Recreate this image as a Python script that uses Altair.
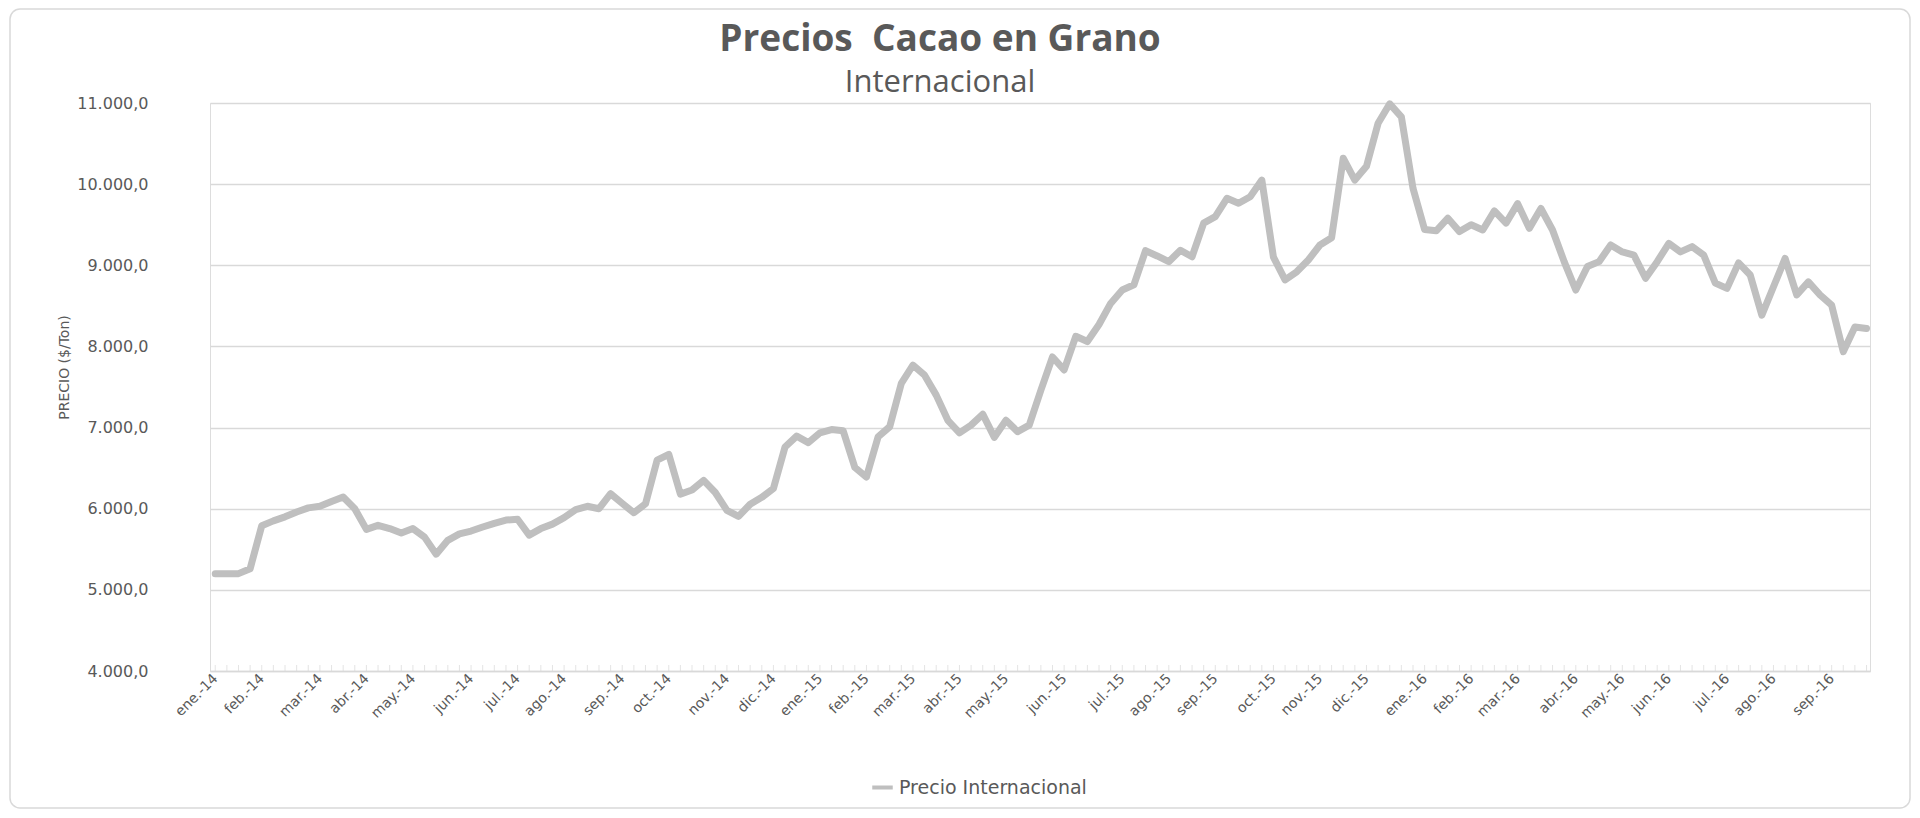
import json
import altair as alt
import pandas as pd

# ---- data ----
month_labels = ["ene.-14", "feb.-14", "mar.-14", "abr.-14", "may.-14", "jun.-14", "jul.-14",
                "ago.-14", "sep.-14", "oct.-14", "nov.-14", "dic.-14", "ene.-15", "feb.-15",
                "mar.-15", "abr.-15", "may.-15", "jun.-15", "jul.-15", "ago.-15", "sep.-15",
                "oct.-15", "nov.-15", "dic.-15", "ene.-16", "feb.-16", "mar.-16", "abr.-16",
                "may.-16", "jun.-16", "jul.-16", "ago.-16", "sep.-16"]
month_idx = [0, 4, 9, 13, 17, 22, 26, 30, 35, 39, 44, 48, 52, 56, 60, 64, 68, 73, 78, 82, 86,
             91, 95, 99, 104, 108, 112, 117, 121, 125, 130, 134, 139]

precio = [
    5200, 5200, 5200, 5260, 5790, 5850, 5900, 5960, 6010, 6030, 6090, 6145,
    6000, 5745, 5795, 5755, 5700, 5755, 5650, 5440, 5610, 5690, 5725, 5775,
    5820, 5860, 5870, 5675, 5755, 5810, 5890, 5990, 6030, 6000, 6185, 6065,
    5950, 6060, 6600, 6670, 6180, 6230, 6350, 6200, 5980, 5905, 6055, 6140,
    6250, 6760, 6895, 6815, 6935, 6975, 6960, 6510, 6390, 6885, 7010, 7545,
    7770, 7645, 7400, 7090, 6935, 7030, 7165, 6880, 7090, 6950, 7030, 7460,
    7870, 7710, 8125, 8060, 8270, 8530, 8695, 8760, 9180, 9115, 9045, 9185,
    9105, 9520, 9600, 9825, 9765, 9845, 10050, 9100, 8820, 8920, 9065, 9250,
    9340, 10320, 10050, 10220, 10750, 10990, 10830, 9950, 9440, 9425, 9580, 9415,
    9500, 9435, 9670, 9520, 9760, 9455, 9700, 9435, 9045, 8695, 8985, 9045,
    9250, 9165, 9125, 8840, 9045, 9270, 9165, 9230, 9125, 8780, 8715, 9030,
    8880, 8385, 8735, 9085, 8635, 8795, 8635, 8510, 7935, 8240, 8220,
]
serie_name = "Precio Internacional"
titulo = ["Precios\u00a0 Cacao en Grano"]
subtitulo = ["Internacional"]
y_ticks = [4000, 5000, 6000, 7000, 8000, 9000, 10000, 11000]

df = pd.DataFrame({"semana": list(range(len(precio))), "precio": precio, "serie": serie_name})

W, H = 1660, 568
GREY_TXT = "#595959"
GRID = "#d9d9d9"

x_label_expr = (f"{json.dumps(month_labels)}[indexof({json.dumps(month_idx)}, datum.value)] || ''")
y_label_expr = ("replace(replace(replace(format(datum.value, ',.1f'), ',', '_'), '.', ','), '_', '.')")

x_enc = alt.X(
    "semana:Q",
    scale=alt.Scale(domain=[-0.45, 142.3], nice=False, zero=False),
    axis=alt.Axis(
        values=list(range(len(precio))), labelExpr=x_label_expr, labelAngle=-45,
        labelAlign="right", labelBaseline="middle", labelOverlap=False, labelFlush=False,
        labelFont="DejaVu Sans", labelFontSize=14, labelColor=GREY_TXT, labelPadding=5,
        ticks=False, grid=False, domainColor=GRID, domainWidth=1.5, title=None,
    ),
)
y_enc = alt.Y(
    "precio:Q",
    scale=alt.Scale(domain=[4000, 11000], nice=False, zero=False),
    axis=alt.Axis(
        values=y_ticks, labelExpr=y_label_expr, domain=False, ticks=False,
        gridColor=GRID, gridWidth=1.5, labelFont="DejaVu Sans", labelFontSize=16,
        labelColor=GREY_TXT, labelPadding=62,
        title="PRECIO  ($/Ton)", titleFont="DejaVu Sans", titleFontSize=14,
        titleFontWeight="normal", titleColor=GREY_TXT, titleAngle=-90,
        titleX=-146, titleY=264, titleAlign="center", titleBaseline="middle",
    ),
)

border = alt.Chart(pd.DataFrame({"k": [0]})).mark_rect(
    fillOpacity=0, stroke=GRID, strokeWidth=1.5, cornerRadius=10
).encode(x=alt.value(-200), x2=alt.value(1700), y=alt.value(-94), y2=alt.value(705))

title_mark = alt.Chart(pd.DataFrame({"t": titulo})).mark_text(
    font="Open Sans", fontSize=37, fontWeight="bold", color=GREY_TXT,
    align="center", baseline="alphabetic",
).encode(x=alt.value(730), y=alt.value(-52), text="t:N")

subtitle_mark = alt.Chart(pd.DataFrame({"t": subtitulo})).mark_text(
    font="Open Sans", fontSize=31, color=GREY_TXT, align="center", baseline="alphabetic",
).encode(x=alt.value(730), y=alt.value(-11), text="t:N")

ticks = alt.Chart(df).mark_tick(orient="vertical", size=6, thickness=1, color=GRID).encode(
    x=x_enc, y=alt.value(H - 3)
)

line = alt.Chart(df).mark_line(strokeWidth=7, strokeJoin="round", strokeCap="round").encode(
    x=x_enc,
    y=y_enc,
    color=alt.Color(
        "serie:N",
        scale=alt.Scale(range=["#BFBFBF"]),
        legend=alt.Legend(
            title=None, orient="none", legendX=660, legendY=672, symbolType="stroke",
            symbolStrokeWidth=4, symbolSize=420, labelFont="DejaVu Sans", labelFontSize=19,
            labelColor=GREY_TXT, labelLimit=500,
        ),
    ),
)

chart = alt.layer(border, title_mark, subtitle_mark, ticks, line).properties(
    width=W,
    height=H,
    autosize=alt.AutoSizeParams(type="none"),
    padding={"left": 202, "top": 95, "right": 42, "bottom": 139},
).configure_view(stroke=None).configure(background="white")

chart.save("out.html", embed_options={"renderer": "svg", "actions": False})
